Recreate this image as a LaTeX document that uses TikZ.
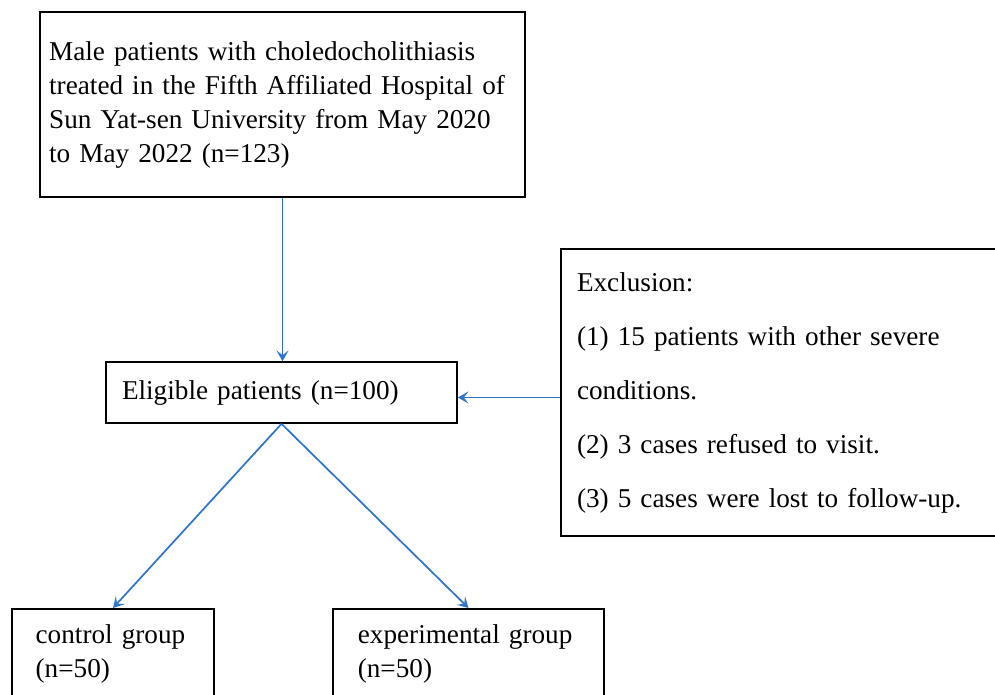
\documentclass[tikz,border=0pt]{standalone}
\usepackage{fontspec}
\setmainfont{Liberation Serif}
\usetikzlibrary{arrows.meta, positioning}
\definecolor{flowblue}{RGB}{47,117,207}

\begin{document}
\begin{tikzpicture}[
    x=0.75pt, y=-0.75pt,
    every node/.style={font=\fontsize{20.4}{25.5}\selectfont},
    box/.style={draw, line width=1.2pt, align=left, inner ysep=0pt},
    flow/.style={draw=flowblue, line width=1.3pt, -{Stealth[length=8pt, width=9pt, inset=3.5pt]}}
]
   \useasboundingbox (0,0) rectangle (995,694);

   % Boxes
   \node[box, minimum width=363.75pt, minimum height=138.75pt, text width=350pt] (source) at (282.5,104.5)
        {Male patients with choledocholithiasis\\ treated in the Fifth Affiliated Hospital of\\ Sun Yat-sen University from May 2020\\ to May 2022 (n=123)};
   \node[box, minimum width=263.25pt, minimum height=45.75pt, text width=239.25pt] (elig) at (281.5,392.5)
        {Eligible patients (n=100)};
   \node[box, minimum width=336.75pt, minimum height=215.25pt, text width=312.75pt, font=\fontsize{20.4}{40.5}\selectfont] (excl) at (785.5,392.5)
        {Exclusion:\\ (1) 15 patients with other severe\\ conditions.\\ (2) 3 cases refused to visit.\\ (3) 5 cases were lost to follow-up.};
   \node[box, anchor=north, minimum width=151.5pt, text width=116pt, inner ysep=12pt] (ctrl) at (113,608)
        {control group\\ (n=50)};
   \node[box, anchor=north, minimum width=203.25pt, text width=166pt, inner ysep=12pt] (exp) at (468.5,608)
        {experimental group\\ (n=50)};

   % Arrows
   \draw[flow] (source.south) -- (source.south |- elig.north);
   \draw[flow] ([yshift=-3.75pt]excl.west) -- ([yshift=-3.75pt]elig.east);
   \draw[flow] (elig.south) -- (ctrl.north);
   \draw[flow] (elig.south) -- (exp.north);
\end{tikzpicture}
\end{document}
